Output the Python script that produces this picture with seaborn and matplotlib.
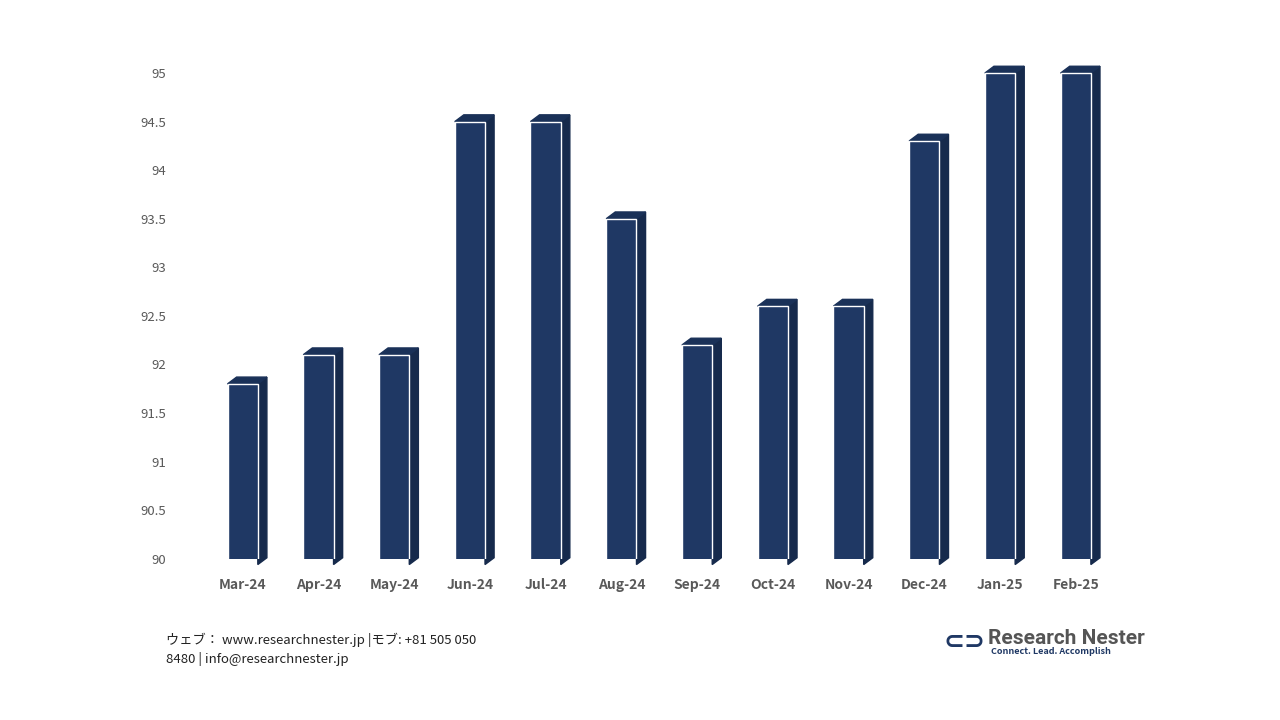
import matplotlib
matplotlib.use("Agg")
import matplotlib.pyplot as plt
from matplotlib.patches import Polygon
import seaborn as sns
import pandas as pd

months = ["Mar-24", "Apr-24", "May-24", "Jun-24", "Jul-24", "Aug-24",
          "Sep-24", "Oct-24", "Nov-24", "Dec-24", "Jan-25", "Feb-25"]
values = [91.8, 92.1, 92.1, 94.5, 94.5, 93.5, 92.2, 92.6, 92.6, 94.3, 95.0, 95.0]
yticks = [90, 90.5, 91, 91.5, 92, 92.5, 93, 93.5, 94, 94.5, 95]

df = pd.DataFrame({"month": months, "value": values})

sns.set_style("white")
plt.rcParams['font.family'] = ['Noto Sans CJK JP', 'DejaVu Sans']

fig = plt.figure(figsize=(12.8, 7.2), dpi=100)
ax = fig.add_axes([0.16, 0.224, 0.71, 0.715])

base = 89.94
front = "#1f3864"
sns.barplot(data=df, x="month", y=df["value"] - base, bottom=base, color=front,
            width=0.4, saturation=1, ax=ax, zorder=3)
ax.set_ylim(90, 95.3)

# fake 3D depth: side and top faces
dx, dy = 0.12, 0.07
for p in ax.patches:
    x0, y0 = p.get_x(), p.get_y()
    w, h = p.get_width(), p.get_height()
    x1, y1 = x0 + w, y0 + h
    ax.add_patch(Polygon([(x1, y0), (x1 + dx, y0 + dy), (x1 + dx, y1 + dy), (x1, y1)],
                         closed=True, color="#162a4c", zorder=2, clip_on=False))
    ax.add_patch(Polygon([(x0, y1), (x1, y1), (x1 + dx, y1 + dy), (x0 + dx, y1 + dy)],
                         closed=True, color="#1a3158", zorder=2, clip_on=False))

ax.set_yticks(yticks)
ax.set_yticklabels([f"{t:g}" for t in yticks], color="#595959", fontsize=9.5)
ax.set_xticklabels(months, color="#595959", fontsize=10, fontweight="bold")
ax.tick_params(length=0, pad=14)
ax.tick_params(axis="y", pad=28)
ax.set_xlabel("")
ax.set_ylabel("")
sns.despine(ax=ax, left=True, bottom=True)

fig.text(0.13, 0.098, "ウェブ： www.researchnester.jp |モブ: +81 505 050\n8480 | info@researchnester.jp",
         fontsize=9.5, color="#222222", va="center", linespacing=1.5)
fig.text(0.772, 0.113, "Research Nester", fontsize=15, fontweight="bold", color="#555555",
         va="center", family=["Roboto", "DejaVu Sans"])
fig.text(0.774, 0.095, "Connect. Lead. Accomplish", fontsize=6.5, fontweight="bold",
         color="#1f3864", va="center")
fig.text(0.737, 0.108, "⊂⊃", fontsize=18, fontweight="bold", color="#1f3864",
         va="center", family=["DejaVu Sans"])

fig.savefig("out.png", dpi=100)
